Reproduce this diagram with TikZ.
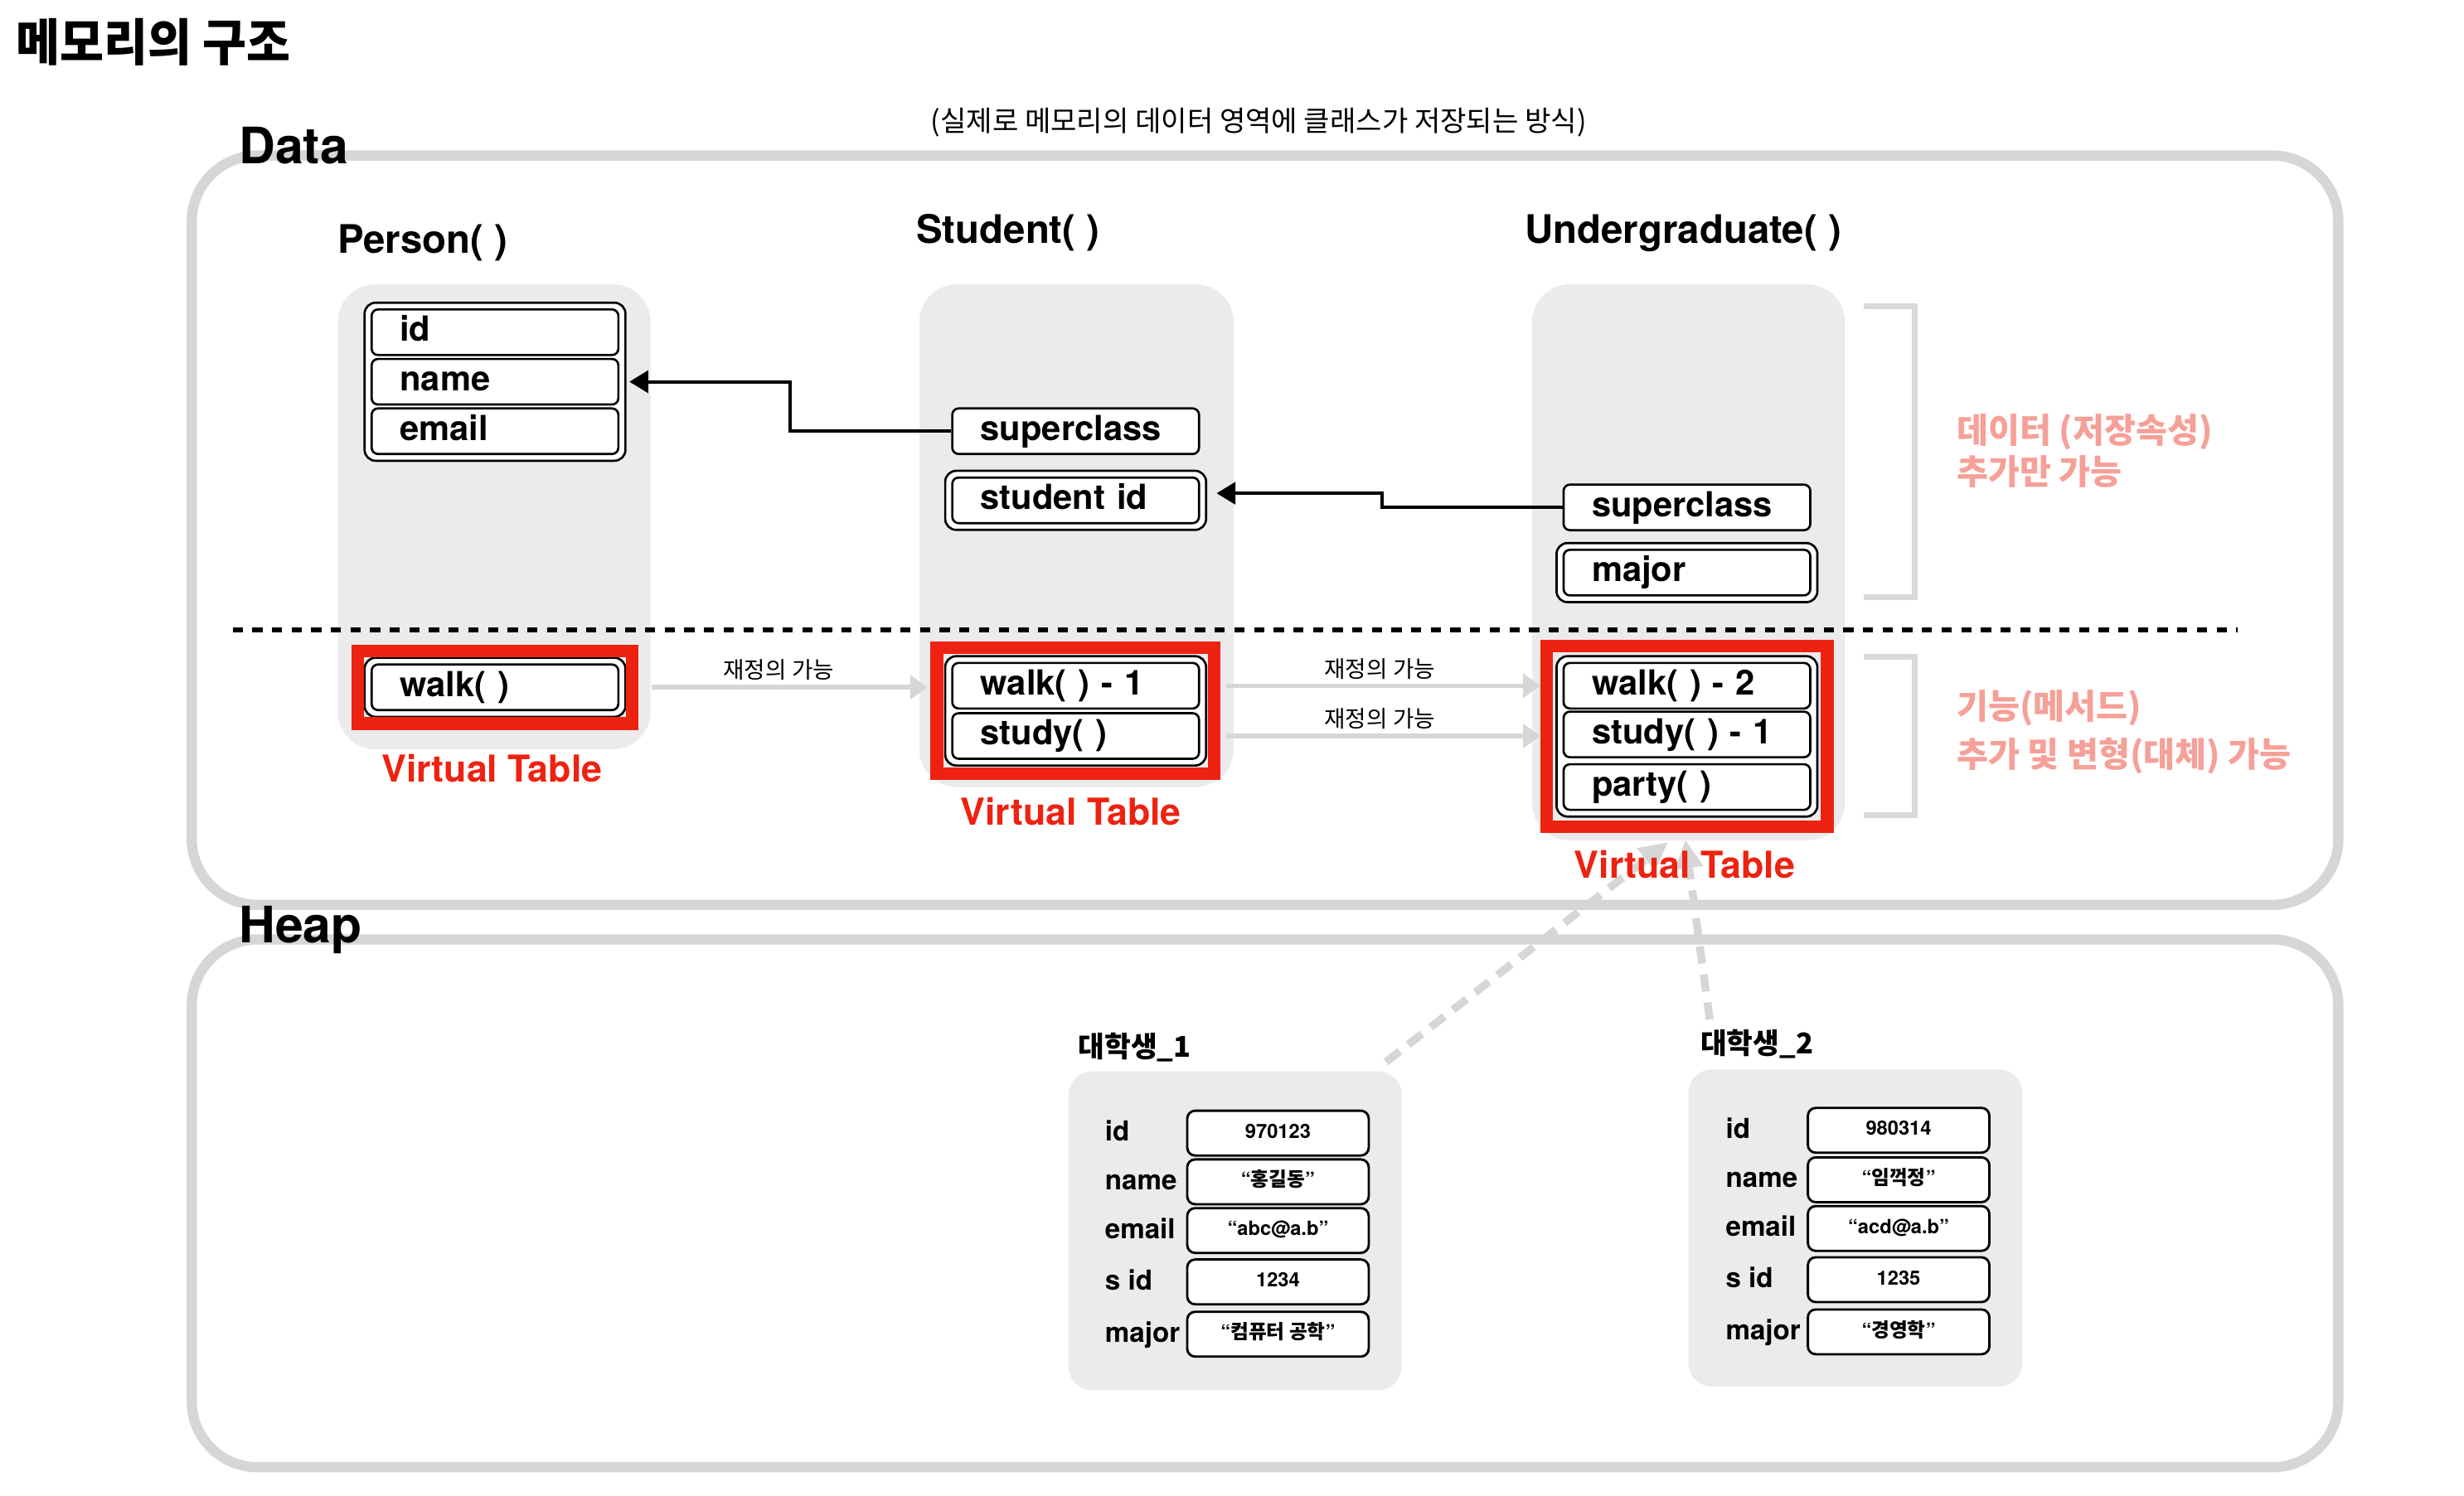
\documentclass[tikz,border=0pt]{standalone}
\usepackage{fontspec}
\setmainfont{TeX Gyre Heros}
\newfontfamily\kr{Noto Sans CJK KR}
\newfontfamily\krn[FakeStretch=0.95]{Noto Sans CJK KR}
\usetikzlibrary{arrows.meta,fit}
\pgfdeclarelayer{back}
\pgfdeclarelayer{mid}
\pgfsetlayers{back,mid,main}
\definecolor{framegray}{RGB}{214,214,214}
\definecolor{colbg}{RGB}{235,235,235}
\definecolor{vtred}{RGB}{238,34,17}
\definecolor{pinknote}{RGB}{245,160,152}
\definecolor{agray}{RGB}{214,214,214}
\definecolor{brkgray}{RGB}{217,217,217}
\newcommand\krq[1]{“{\kr #1}”}
\begin{document}
\begin{tikzpicture}[x=1pt,y=-1pt,
  area/.style={draw=framegray, line width=6.5pt, rounded corners=42pt, inner sep=0pt},
  areatitle/.style={anchor=base west, inner sep=0pt, font=\bfseries\fontsize{32}{34}\selectfont},
  col/.style={fill=colbg, rounded corners=24pt, inner sep=0pt},
  hdr/.style={anchor=base, inner sep=0pt, font=\bfseries\fontsize{25}{27}\selectfont},
  fld/.style={draw, line width=1.4pt, rounded corners=4pt, fill=white, minimum height=29pt,
    text width=121pt, inner xsep=18pt, inner ysep=0pt, align=left,
    font=\bfseries\fontsize{22}{24}\selectfont, text height=16pt, text depth=4.4pt},
  dbl/.style={draw, line width=1.4pt, rounded corners=7pt, fill=white, inner xsep=3.8pt, inner ysep=3.6pt},
  redbox/.style={draw=vtred, line width=8pt},
  vtlbl/.style={inner sep=0pt, text=vtred, font=\bfseries\fontsize{23.6}{25}\selectfont},
  barrow/.style={line width=2.2pt, -{Triangle[length=12pt,width=14pt]}},
  garrow/.style={draw=agray, line width=3pt, -{Triangle[length=11pt,width=15pt]}},
  darrow/.style={draw=agray, line width=5pt, dash pattern=on 11pt off 7pt, -{Triangle[length=18pt,width=17pt]}},
  glbl/.style={inner sep=0pt, font=\kr\fontsize{14.6}{16}\selectfont},
  brk/.style={draw=brkgray, line width=3.5pt},
  note/.style={anchor=west, inner sep=0pt, align=left, text=pinknote},
  obj/.style={fill=colbg, rounded corners=15pt, inner sep=0pt},
  objlbl/.style={anchor=base west, inner sep=0pt, font=\kr\bfseries\fontsize{18.2}{20}\selectfont},
  hlbl/.style={anchor=base west, inner sep=0pt, font=\bfseries\fontsize{17.5}{19}\selectfont},
  val/.style={draw, line width=1.5pt, rounded corners=5pt, fill=white, minimum width=115.5pt,
    minimum height=28.5pt, inner sep=0pt, font=\bfseries\fontsize{12.5}{14}\selectfont,
    text height=9pt, text depth=2.6pt},
  dotln/.style={line width=3pt, dash pattern=on 6.5pt off 6pt}
]
\useasboundingbox (0,0) rectangle (1568,952);
\begin{pgfonlayer}{back}
\fill[white] (0,0) rectangle (1568,952);
\node[area, minimum width=1366pt, minimum height=477pt] (dataArea) at (805,337.5) {};
\node[area, minimum width=1366pt, minimum height=336pt] (heapArea) at (805,766) {};
\node[col, minimum width=199pt, minimum height=296pt] (colP) at (314.5,329) {};
\node[col, minimum width=200pt, minimum height=320pt] (colS) at (685,341) {};
\node[col, minimum width=199pt, minimum height=354pt] (colU) at (1074.5,358) {};
\end{pgfonlayer}

% titles
\node[anchor=west, inner sep=0pt, font=\krn\bfseries\fontsize{32}{34}\selectfont] (title) at (10,27) {메모리의 구조};
\node[inner sep=0pt, font=\kr\fontsize{18}{20}\selectfont] (subtitle) at (801,78) {(실제로 메모리의 데이터 영역에 클래스가 저장되는 방식)};
\node[areatitle] (dataLbl) at (152,104) {Data};
\node[areatitle] (heapLbl) at (152,600) {Heap};

% class headers
\node[hdr] (hP) at (269,161) {Person( )};
\node[hdr] (hS) at (641.5,155) {Student( )};
\node[hdr] (hU) at (1071,155) {Undergraduate( )};

% data fields
\node[fld] (pId) at (315,211.5) {id};
\node[fld] (pName) at (315,243) {name};
\node[fld] (pEmail) at (315,274.5) {email};
\node[fld] (sSuper) at (684.5,274.5) {superclass};
\node[fld] (sSid) at (684.5,318.5) {student id};
\node[fld] (uSuper) at (1073.5,323) {superclass};
\node[fld] (uMajor) at (1073.5,364.5) {major};

% virtual table fields
\node[fld] (pWalk) at (315,437.5) {walk( )};
\node[fld] (sWalk) at (684.5,436.5) {walk( ) - 1};
\node[fld] (sStudy) at (684.5,468.5) {study( )};
\node[fld] (uWalk) at (1073.5,436.5) {walk( ) - 2};
\node[fld] (uStudy) at (1073.5,467.5) {study( ) - 1};
\node[fld] (uParty) at (1073.5,501) {party( )};

\begin{pgfonlayer}{mid}
\node[dbl, fit=(pId)(pEmail)] (pBox) {};
\node[dbl, fit=(sSid)] (sSidBox) {};
\node[dbl, fit=(uMajor)] (uMajorBox) {};
\node[dbl, fit=(pWalk)] (pVTbox) {};
\node[dbl, fit=(sWalk)(sStudy)] (sVTbox) {};
\node[dbl, fit=(uWalk)(uParty)] (uVTbox) {};
\node[redbox, fit=(pVTbox), inner sep=3.6pt] (pVT) {};
\node[redbox, fit=(sVTbox), inner sep=4.6pt] (sVT) {};
\node[redbox, fit=(uVTbox), inner sep=5.6pt] (uVT) {};
\end{pgfonlayer}

% dotted separator
\draw[dotln] (148,401) -- (1424,401);

% brackets
\draw[brk] (1186,195) -- (1218.5,195) -- (1218.5,380) -- (1186,380);
\draw[brk] (1186,418) -- (1218.5,418) -- (1218.5,519) -- (1186,519);

% notes
\node[note, font=\kr\bfseries\fontsize{21.8}{26}\selectfont] (note1) at (1245,287) {데이터 (저장속성)\\추가만 가능};
\node[note, font=\kr\bfseries\fontsize{21.8}{31}\selectfont] (note2) at (1245,466) {기능(메서드)\\추가 및 변형(대체) 가능};

% superclass arrows
\draw[barrow, shorten >=1.8pt] (sSuper.west) -- ++(-102.5,0) |- (pBox.east |- pName);
\draw[barrow, shorten >=6pt] (uSuper.west) -- ++(-115,0) |- ([yshift=4.5pt]sSidBox.east);

% override arrows
\draw[garrow, shorten <=8.5pt, shorten >=2pt] (pVT.east |- pWalk) -- (sVT.west |- pWalk);
\draw[garrow, shorten <=3.5pt] (sVT.east |- sWalk) -- (uVT.west |- sWalk);
\draw[garrow, shorten <=3.5pt] (sVT.east |- sStudy) -- (uVT.west |- sStudy);
\node[glbl] (g1) at (495.5,426.5) {재정의 가능};
\node[glbl] (g2) at (878,426) {재정의 가능};
\node[glbl] (g3) at (878,457.5) {재정의 가능};

% heap objects
\node[obj, minimum width=212pt, minimum height=203pt] (obj1) at (786,783.5) {};
\node[obj, minimum width=212.5pt, minimum height=202pt] (obj2) at (1180.75,781.7) {};
\node[objlbl] (o1lbl) at (686,673) {대학생\_1};
\node[objlbl] (o2lbl) at (1082,671) {대학생\_2};

\node[hlbl] (o1a) at (703,726.3) {id};
\node[hlbl] (o1b) at (703,757.3) {name};
\node[hlbl] (o1c) at (703,788.3) {email};
\node[hlbl] (o1d) at (703,821) {s id};
\node[hlbl] (o1e) at (703,854.3) {major};
\node[val] (v1a) at (813.25,721.3) {970123};
\node[val] (v1b) at (813.25,752.3) {\krq{홍길동}};
\node[val] (v1c) at (813.25,783.3) {“abc@a.b”};
\node[val] (v1d) at (813.25,816) {1234};
\node[val] (v1e) at (813.25,849.3) {\krq{컴퓨터 공학}};

\node[hlbl] (o2a) at (1098,724.5) {id};
\node[hlbl] (o2b) at (1098,756) {name};
\node[hlbl] (o2c) at (1098,787) {email};
\node[hlbl] (o2d) at (1098,819.6) {s id};
\node[hlbl] (o2e) at (1098,852.8) {major};
\node[val] (v2a) at (1208.2,719.5) {980314};
\node[val] (v2b) at (1208.2,751) {\krq{임꺽정}};
\node[val] (v2c) at (1208.2,782) {“acd@a.b”};
\node[val] (v2d) at (1208.2,814.6) {1235};
\node[val] (v2e) at (1208.2,847.8) {\krq{경영학}};

% instance -> vtable dashed arrows
\coordinate (d1s) at (882,676);
\coordinate (d2s) at (1088,649);
\draw[darrow] (d1s) -- ([xshift=-12pt,yshift=-6pt]uVT.south);
\draw[darrow] (d2s) -- ([xshift=-1pt,yshift=-4.5pt]uVT.south);

% virtual table labels
\node[vtlbl] (pVTl) at (313,489) {Virtual Table};
\node[vtlbl] (sVTl) at (681.5,516.5) {Virtual Table};
\node[vtlbl] (uVTl) at (1072,550.5) {Virtual Table};
\end{tikzpicture}
\end{document}
